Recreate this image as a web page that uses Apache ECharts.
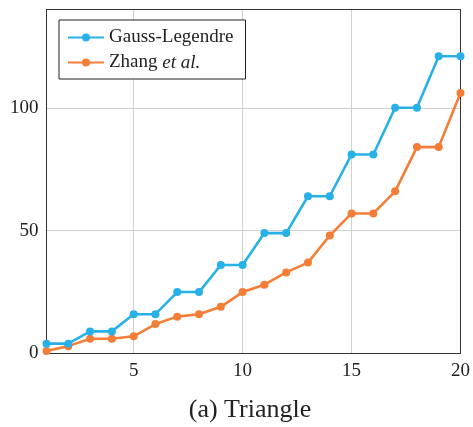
<!DOCTYPE html>
<html><head><meta charset="utf-8">
<script src="https://cdn.jsdelivr.net/npm/echarts@6/dist/echarts.min.js"></script>
<style>html,body{margin:0;padding:0;background:#fff}#c{width:473px;height:427px}</style>
</head><body><div id="c"></div>
<script>
const xValues = [1,2,3,4,5,6,7,8,9,10,11,12,13,14,15,16,17,18,19,20];
const gaussLegendre = [4,4,9,9,16,16,25,25,36,36,49,49,64,64,81,81,100,100,121,121];
const zhang = [1,3,6,6,7,12,15,16,19,25,28,33,37,48,57,57,66,84,84,106];
const xTicks = [5,10,15,20];
const seriesNames = ['Gauss-Legendre','Zhang et al.'];
const caption = '(a) Triangle';

const FONT = '"Liberation Serif", "DejaVu Serif", serif';
const chart = echarts.init(document.getElementById('c'), null, {renderer:'canvas'});
const mk = (arr) => arr.map((v,i)=>[xValues[i], v]);
const frameAxis = {axisLine:{show:true, onZero:false, lineStyle:{color:'#333'}}, axisTick:{show:false}, axisLabel:{show:false}, splitLine:{show:false}};
chart.setOption({
  animation:false,
  textStyle:{fontFamily:FONT},
  grid:{left:46.5, right:11.5, top:9.5, bottom:73.5, show:false, containLabel:false},
  title:{text:caption, left:250, textAlign:'center', top:392, textStyle:{fontFamily:FONT, fontSize:26, fontWeight:'normal', color:'#222'}},
  legend:{
    orient:'vertical', left:59, top:20, padding:[8,12,7,8], itemGap:6,
    itemWidth:36, itemHeight:10, borderColor:'#222', borderWidth:1,
    backgroundColor:'#fff',
    textStyle:{fontFamily:FONT, fontSize:19, color:'#222',
      rich:{i:{fontFamily:FONT, fontStyle:'italic', fontSize:19, color:'#222'}}},
    formatter:(n)=> n==='Zhang et al.' ? 'Zhang {i|et al.}' : n,
    data:seriesNames
  },
  xAxis:[{
    type:'value', min:1, max:20,
    axisLine:{show:true, onZero:false, lineStyle:{color:'#333'}},
    axisTick:{show:false, customValues:xTicks},
    axisLabel:{customValues:xTicks, fontFamily:FONT, fontSize:19, color:'#222', margin:8},
    splitLine:{show:true, lineStyle:{color:'#d0d0d0', width:1}}
  }, Object.assign({type:'value', min:1, max:20, position:'top'}, frameAxis)],
  yAxis:[{
    type:'value', min:0, max:140, interval:50,
    axisLine:{show:true, onZero:false, lineStyle:{color:'#333'}},
    axisTick:{show:false},
    axisLabel:{fontFamily:FONT, fontSize:19, color:'#222', margin:8, showMaxLabel:false},
    splitLine:{show:true, lineStyle:{color:'#d0d0d0', width:1}}
  }, Object.assign({type:'value', min:0, max:140, position:'right'}, frameAxis)],
  series:[
    {name:seriesNames[0], type:'line', data:mk(gaussLegendre), symbol:'circle', symbolSize:8,
     itemStyle:{color:'#27b1e6'}, lineStyle:{color:'#27b1e6', width:2.6}, clip:false, z:3},
    {name:seriesNames[1], type:'line', data:mk(zhang), symbol:'circle', symbolSize:8,
     itemStyle:{color:'#f47e37'}, lineStyle:{color:'#f47e37', width:2.6}, clip:false, z:2}
  ]
});
chart.setOption({title:{left:245}});
</script></body></html>
